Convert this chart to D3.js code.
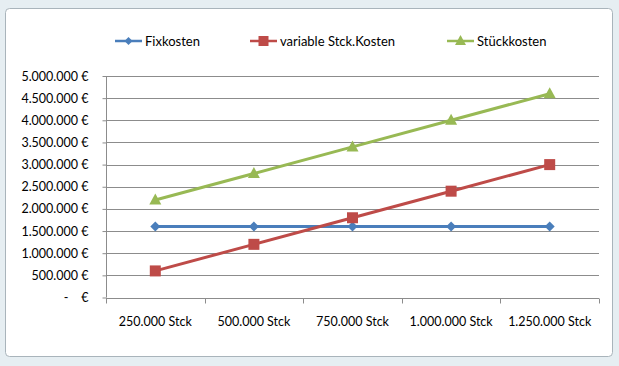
<!DOCTYPE html>
<html><head><meta charset="utf-8">
<script src="https://cdn.jsdelivr.net/npm/d3@7"></script>
<style>body{margin:0;background:#fff;}svg{display:block;font-family:Lato,"Open Sans",sans-serif;}</style>
</head><body>
<svg id="c" width="619" height="366"></svg>
<script>
const categories = ["250.000 Stck","500.000 Stck","750.000 Stck","1.000.000 Stck","1.250.000 Stck"];
const fixkosten = [1600000,1600000,1600000,1600000,1600000];
const variableKosten = [600000,1200000,1800000,2400000,3000000];
const stueckkosten = [2200000,2800000,3400000,4000000,4600000];
const yTicks = [0,500000,1000000,1500000,2000000,2500000,3000000,3500000,4000000,4500000,5000000];
const seriesNames = ["Fixkosten","variable Stck.Kosten","Stückkosten"];

const series = [
  {name: seriesNames[0], values: fixkosten, color: "#4a7ebb", marker: "diamond"},
  {name: seriesNames[1], values: variableKosten, color: "#be4b48", marker: "square"},
  {name: seriesNames[2], values: stueckkosten, color: "#98b954", marker: "triangle"}
];

const svg = d3.select("#c");
svg.append("rect").attr("width",619).attr("height",366).attr("fill","#e6eef2");
svg.append("rect").attr("x",5.5).attr("y",8.5).attr("width",607).attr("height",348)
  .attr("rx",4).attr("fill","#fff").attr("stroke","#a9b4bb");

const pLeft = 106, pRight = 599, pTop = 76, pBottom = 297.5;
const fs = "12.5px";
const x = d3.scaleBand().domain(categories).range([pLeft,pRight]);
const y = d3.scaleLinear().domain([0,5000000]).range([pBottom,pTop]);

const g = svg.append("g");
g.selectAll("line.grid").data(yTicks.filter(d=>d>0)).enter().append("line")
  .attr("x1",pLeft).attr("x2",pRight).attr("y1",d=>Math.round(y(d))+0.5).attr("y2",d=>Math.round(y(d))+0.5)
  .attr("stroke","#8c8c8c").attr("stroke-width",1);

const fmt = v => v===0 ? "-\u00a0\u00a0\u00a0\u00a0€" : d3.format(",")(v).replace(/,/g,".") + "\u00a0€";
const yAxis = d3.axisLeft(y).tickValues(yTicks).tickSize(4).tickPadding(14).tickFormat(fmt);
const ya = svg.append("g").attr("transform",`translate(${pLeft+0.5},0)`).call(yAxis);
ya.select("path.domain").attr("stroke","#8c8c8c").attr("d",`M0,${pTop}V${pBottom}`);
ya.selectAll(".tick line").attr("stroke","#8c8c8c");
ya.selectAll("text").attr("font-size",fs).attr("fill","#000").attr("font-family","Lato,sans-serif");

const xa = svg.append("g").attr("transform",`translate(0,${Math.round(pBottom)+0.5})`);
xa.append("line").attr("x1",pLeft).attr("x2",pRight).attr("stroke","#8c8c8c");
const bounds = categories.map(c=>x(c)).concat([pRight]);
xa.selectAll("line.t").data(bounds).enter().append("line")
  .attr("x1",d=>Math.round(d)+0.5).attr("x2",d=>Math.round(d)+0.5).attr("y1",0).attr("y2",5).attr("stroke","#8c8c8c");
xa.selectAll("text.c").data(categories).enter().append("text")
  .attr("x",d=>x(d)+x.bandwidth()/2).attr("y",27).attr("text-anchor","middle")
  .attr("font-size",fs).attr("fill","#000").text(d=>d);

const cx = i => x(categories[i]) + x.bandwidth()/2;
const line = d3.line().x((d,i)=>cx(i)).y(d=>y(d));

function drawMarker(sel, type, color, px, py, s) {
  if (type==="diamond") {
    sel.append("path").attr("d",`M${px},${py-s}L${px+s},${py}L${px},${py+s}L${px-s},${py}Z`).attr("fill",color);
  } else if (type==="square") {
    sel.append("rect").attr("x",px-s).attr("y",py-s).attr("width",2*s).attr("height",2*s).attr("fill",color);
  } else {
    sel.append("path").attr("d",`M${px},${py-s-1}L${px+s+0.5},${py+s-1}L${px-s-0.5},${py+s-1}Z`).attr("fill",color);
  }
}

series.forEach(s=>{
  const sg = svg.append("g");
  sg.append("path").attr("d",line(s.values)).attr("fill","none").attr("stroke",s.color).attr("stroke-width",3);
  s.values.forEach((v,i)=>drawMarker(sg, s.marker, s.color, cx(i), y(v), s.marker==="diamond"?5:5.5));
});

const legendX = [115, 250, 447];
series.forEach((s,i)=>{
  const lg = svg.append("g");
  const lx = legendX[i], ly = 41;
  lg.append("line").attr("x1",lx).attr("x2",lx+27).attr("y1",ly).attr("y2",ly).attr("stroke",s.color).attr("stroke-width",2.5);
  drawMarker(lg, s.marker, s.color, lx+13.5, ly, s.marker==="diamond"?4:5);
  lg.append("text").attr("x",lx+30).attr("y",ly+4.5).attr("font-size","13px").attr("fill","#000").text(s.name);
});
</script>
</body></html>
